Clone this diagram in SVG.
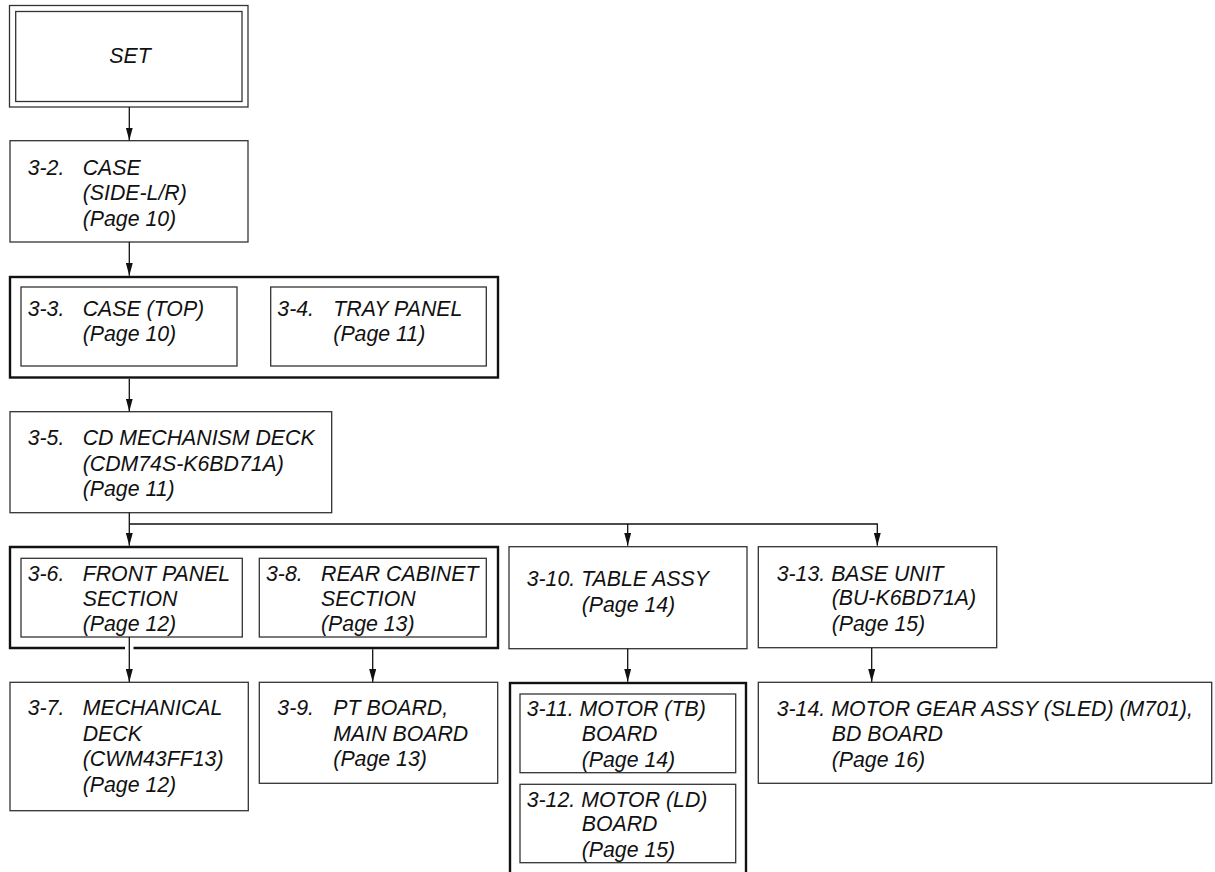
<svg xmlns="http://www.w3.org/2000/svg" width="1215" height="872" viewBox="0 0 1215 872">
<style>
  .bg { fill: #ffffff; }
  .box { fill: #ffffff; stroke: #333333; stroke-width: 1.3; }
  .grp { fill: none; stroke: #111111; stroke-width: 2.4; }
  .t { font-family: "Liberation Sans", Arial, sans-serif; font-style: italic; font-size: 21.3px; fill: #111111; }
  .c { fill: none; stroke: #111111; stroke-width: 1.3; }
</style>
<defs>
  <marker id="arr" markerUnits="userSpaceOnUse" markerWidth="13" markerHeight="7" refX="13" refY="3.5" orient="auto">
    <path d="M0,0 L13,3.5 L0,7 z" fill="#111111"/>
  </marker>
</defs>
<rect class="bg" x="0" y="0" width="1215" height="872"/>

<g id="set">
  <rect class="box" x="9.5" y="5.5" width="238.5" height="101.5"/>
  <rect class="box" x="15.7" y="11.5" width="226.3" height="90"/>
  <text class="t" x="130" y="62.5" text-anchor="middle">SET</text>
</g>

<g id="n3-2">
  <rect class="box" x="10" y="140.7" width="238" height="101.3"/>
  <text class="t" x="27.7" y="175">3-2.</text>
  <text class="t" x="82.7" y="175">CASE</text>
  <text class="t" x="82.7" y="200">(SIDE-L/R)</text>
  <text class="t" x="82.7" y="226">(Page 10)</text>
</g>

<g id="grp-3-3-3-4">
  <rect class="grp" x="10" y="277" width="488" height="100.5"/>
  <g id="n3-3">
    <rect class="box" x="21" y="287" width="216" height="79"/>
    <text class="t" x="27.7" y="316">3-3.</text>
    <text class="t" x="82.7" y="316">CASE (TOP)</text>
    <text class="t" x="82.7" y="341">(Page 10)</text>
  </g>
  <g id="n3-4">
    <rect class="box" x="270.7" y="287" width="215.6" height="79"/>
    <text class="t" x="277.3" y="316">3-4.</text>
    <text class="t" x="333.3" y="316">TRAY PANEL</text>
    <text class="t" x="333.3" y="341">(Page 11)</text>
  </g>
</g>

<g id="n3-5">
  <rect class="box" x="10" y="411.7" width="321.7" height="101"/>
  <text class="t" x="27.7" y="445">3-5.</text>
  <text class="t" x="82.7" y="445">CD MECHANISM DECK</text>
  <text class="t" x="82.7" y="470.5">(CDM74S-K6BD71A)</text>
  <text class="t" x="82.7" y="495.5">(Page 11)</text>
</g>

<g id="grp-3-6-3-8">
  <path class="grp" d="M125,648 H10 V547 H498 V648 H133.5"/>
  <g id="n3-6">
    <rect class="box" x="21" y="558.3" width="221.3" height="78.7"/>
    <text class="t" x="27.7" y="580.5">3-6.</text>
    <text class="t" x="82.7" y="580.5">FRONT PANEL</text>
    <text class="t" x="82.7" y="605.7">SECTION</text>
    <text class="t" x="82.7" y="630.7">(Page 12)</text>
  </g>
  <g id="n3-8">
    <rect class="box" x="259.3" y="558.3" width="227" height="78.7"/>
    <text class="t" x="266" y="580.5">3-8.</text>
    <text class="t" x="321" y="580.5">REAR CABINET</text>
    <text class="t" x="321" y="605.7">SECTION</text>
    <text class="t" x="321" y="630.7">(Page 13)</text>
  </g>
</g>

<g id="n3-10">
  <rect class="box" x="509" y="546.7" width="238" height="102"/>
  <text class="t" x="526.7" y="585.7">3-10. TABLE ASSY</text>
  <text class="t" x="581.7" y="611.7">(Page 14)</text>
</g>

<g id="n3-13">
  <rect class="box" x="758.3" y="546.7" width="238.4" height="101"/>
  <text class="t" x="776.7" y="580.7">3-13. BASE UNIT</text>
  <text class="t" x="831.7" y="605.3">(BU-K6BD71A)</text>
  <text class="t" x="831.7" y="630.7">(Page 15)</text>
</g>

<g id="n3-7">
  <rect class="box" x="10" y="682.3" width="238.3" height="128.4"/>
  <text class="t" x="27.7" y="715">3-7.</text>
  <text class="t" x="82.7" y="715">MECHANICAL</text>
  <text class="t" x="82.7" y="740.7">DECK</text>
  <text class="t" x="82.7" y="765.7">(CWM43FF13)</text>
  <text class="t" x="82.7" y="791.7">(Page 12)</text>
</g>

<g id="n3-9">
  <rect class="box" x="259.3" y="682.3" width="238.4" height="101"/>
  <text class="t" x="277.3" y="715">3-9.</text>
  <text class="t" x="333.3" y="715">PT BOARD,</text>
  <text class="t" x="333.3" y="740.7">MAIN BOARD</text>
  <text class="t" x="333.3" y="765.7">(Page 13)</text>
</g>

<g id="grp-3-11-3-12">
  <rect class="grp" x="510" y="683" width="236" height="200"/>
  <g id="n3-11">
    <rect class="box" x="520" y="694" width="215.7" height="78.7"/>
    <text class="t" x="526.7" y="716">3-11. MOTOR (TB)</text>
    <text class="t" x="581.7" y="740.7">BOARD</text>
    <text class="t" x="581.7" y="766.7">(Page 14)</text>
  </g>
  <g id="n3-12">
    <rect class="box" x="520" y="784.3" width="215.7" height="78.4"/>
    <text class="t" x="526.7" y="806.7">3-12. MOTOR (LD)</text>
    <text class="t" x="581.7" y="831">BOARD</text>
    <text class="t" x="581.7" y="856.7">(Page 15)</text>
  </g>
</g>

<g id="n3-14">
  <rect class="box" x="758.3" y="682.3" width="453.4" height="101"/>
  <text class="t" x="776.7" y="716">3-14. MOTOR GEAR ASSY (SLED) (M701),</text>
  <text class="t" x="831.7" y="740.7">BD BOARD</text>
  <text class="t" x="831.7" y="766.7">(Page 16)</text>
</g>

<g id="connectors">
  <path class="c" d="M129.3,107 V140.5" marker-end="url(#arr)"/>
  <path class="c" d="M129.3,242 V275.8" marker-end="url(#arr)"/>
  <path class="c" d="M129.3,378.7 V411.5" marker-end="url(#arr)"/>
  <path class="c" d="M129.3,512.7 V545.8" marker-end="url(#arr)"/>
  <path class="c" d="M129.3,524 H877.3 V545.8" marker-end="url(#arr)"/>
  <path class="c" d="M627.7,524 V545.8" marker-end="url(#arr)"/>
  <path class="c" d="M129.3,637 V682" marker-end="url(#arr)"/>
  <path class="c" d="M372.7,649.2 V682" marker-end="url(#arr)"/>
  <path class="c" d="M627.7,648.7 V681.8" marker-end="url(#arr)"/>
  <path class="c" d="M871.7,647.7 V682" marker-end="url(#arr)"/>
</g>
</svg>
